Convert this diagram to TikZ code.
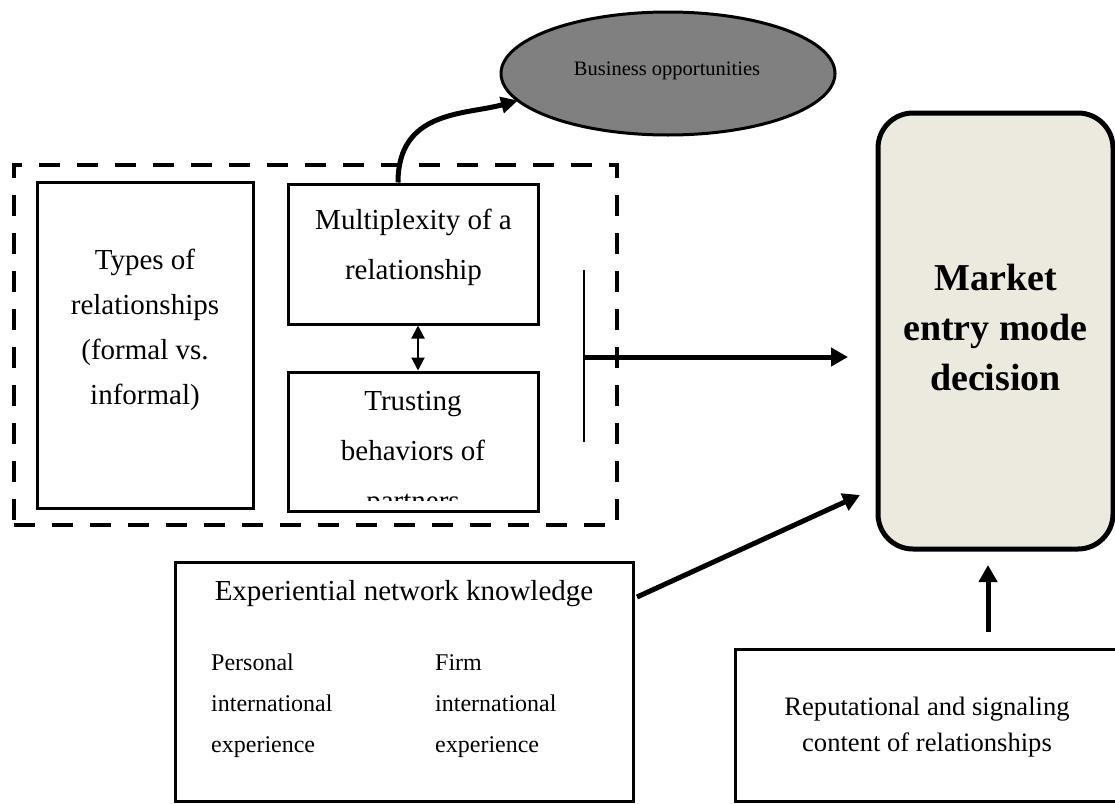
\documentclass[tikz,border=0pt]{standalone}
\usepackage{fontspec}
\setmainfont{Liberation Serif}
\usetikzlibrary{arrows.meta,shapes.geometric,calc}
\definecolor{mktfill}{RGB}{236,233,223}
\definecolor{ellfill}{RGB}{128,128,128}
\begin{document}
\begin{tikzpicture}[x=1pt,y=-1pt,
  box/.style={draw,line width=3pt,inner sep=0pt},
  typestxt/.style={font=\fontsize{29}{45}\selectfont,align=center,inner sep=0pt},
  bigtxt/.style={font=\fontsize{29}{50}\selectfont,align=center,inner sep=0pt},
  midtxt/.style={font=\fontsize{24}{41}\selectfont,align=left,inner sep=0pt},
  reptxt/.style={font=\fontsize{26.6}{36}\selectfont,align=center,inner sep=0pt},
  boldtxt/.style={font=\fontsize{38}{50}\selectfont\bfseries,align=center,inner sep=0pt},
  thickarrow/.style={line width=5pt,-{Triangle[length=17pt,width=18pt]}},
  thinarrow/.style={line width=2pt,{Triangle[length=13pt,width=13pt]}-{Triangle[length=13pt,width=13pt]}}
]
\useasboundingbox (0,0) rectangle (1115,803);
\clip (0,0) rectangle (1115,803);

% dashed group
\node[draw,line width=4pt,dash pattern=on 21pt off 17pt,minimum width=603pt,minimum height=360pt,inner sep=0pt] (grp) at (315.5,345) {};

% boxes
\node[box,minimum width=216pt,minimum height=326pt] (types) at (145,345) {};
\node[box,minimum width=250pt,minimum height=140pt] (mult) at (413,254) {};
\node[box,minimum width=250pt,minimum height=139pt] (trust) at (413,441.5) {};
\node[draw,line width=5pt,rounded corners=35pt,fill=mktfill,minimum width=235pt,minimum height=436pt,inner sep=0pt] (mkt) at (995.5,331) {};
\node[draw,ellipse,line width=3pt,fill=ellfill,minimum width=334pt,minimum height=123pt,inner sep=0pt] (ell) at (668,73.5) {};
\node[box,minimum width=458pt,minimum height=239pt] (exp) at (404,681.5) {};
\node[box,minimum width=383pt,minimum height=152pt] (rep) at (926.5,725) {};

% texts (base anchor = baseline of the last line)
\node[typestxt,anchor=base] (typest) at (145,404) {Types of\\relationships\\(formal vs.\\informal)};
\node[bigtxt,anchor=base] (multt) at (413.5,279) {Multiplexity of a\\relationship};
\begin{scope}
  \clip (290,380) rectangle (536,500);
  \node[bigtxt,anchor=base] (trustt) at (413,510) {Trusting\\behaviors of\\partners};
\end{scope}
\node[boldtxt,anchor=base] (mktt) at (995.5,390) {Market\\entry mode\\decision};
\node[font=\fontsize{20.5}{24}\selectfont,inner sep=0pt,anchor=base] (ellt) at (667,75) {Business opportunities};
\node[font=\fontsize{29}{40}\selectfont,inner sep=0pt,anchor=base] (expt) at (404,600) {Experiential network knowledge};
\node[midtxt,anchor=base west] (pers) at (211,752) {Personal\\international\\experience};
\node[midtxt,anchor=base west] (firm) at (435,752) {Firm\\international\\experience};
\node[reptxt,anchor=base] (rept) at (927,751) {Reputational and signaling\\content of relationships};

% connectors
\coordinate (bt) at (584,270);
\coordinate (bb) at (584,442);
\coordinate (bm) at (584,357);
\coordinate (ht) at (848,357);
\coordinate (es) at (637,597);
\coordinate (et) at (860,495);
\coordinate (us) at (988,632);
\coordinate (ut) at (988,565);

\draw[line width=1.5pt] (bt) -- (bb);
\draw[thickarrow] (bm) -- (ht);
\draw[thickarrow] (es) -- (et);
\draw[thickarrow] (us) -- (ut);
\draw[thinarrow] ($(mult.south)+(5,0)$) -- ($(trust.north)+(5,0)$);
\draw[line width=5pt,-{Triangle[length=17pt,width=16pt]}] ($(mult.north)+(-15,0)$) .. controls (398,110) and (465,115) .. ($(ell.center)+(-150,27)$);
\end{tikzpicture}
\end{document}
